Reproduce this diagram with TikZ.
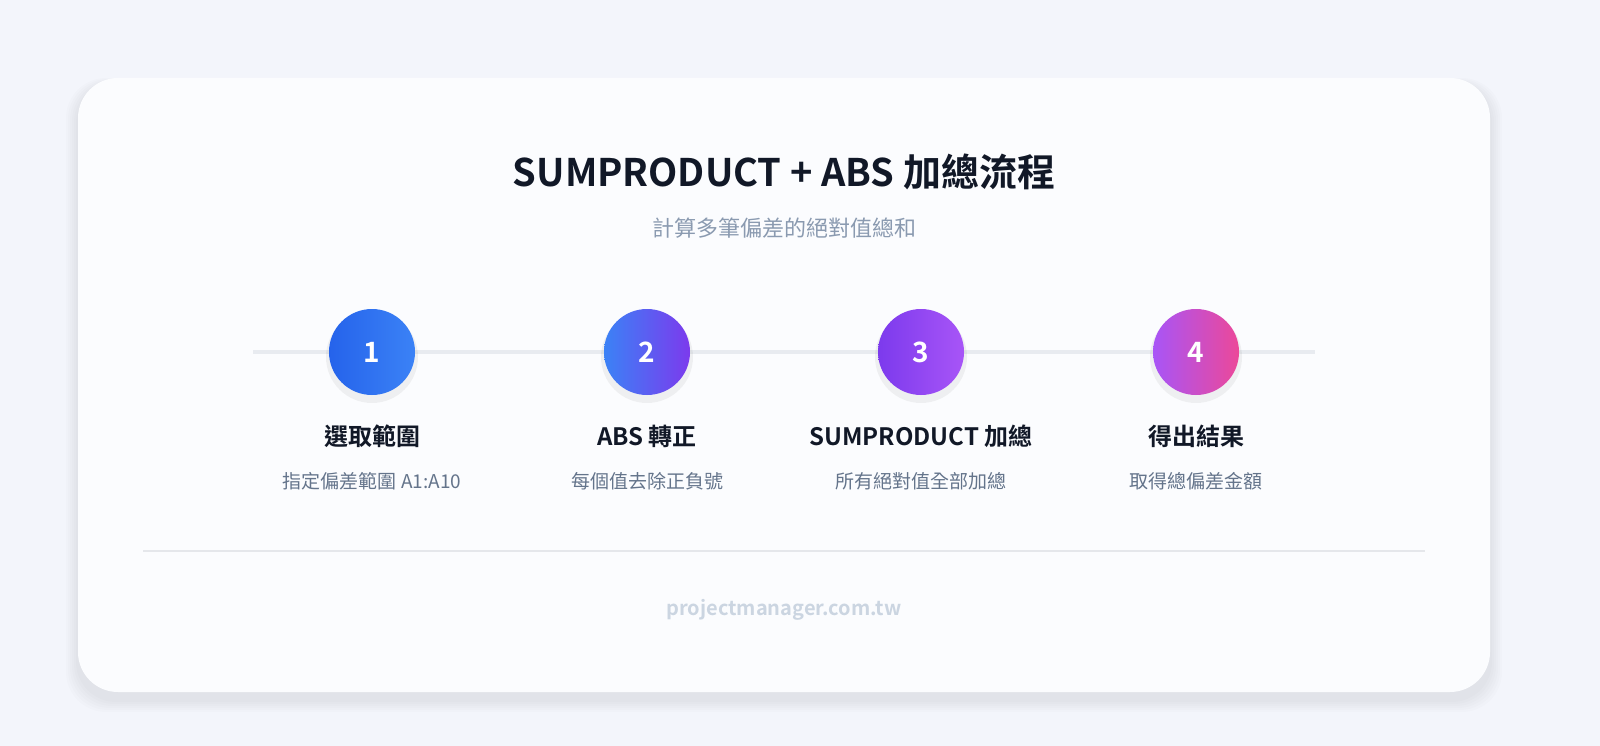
\documentclass[tikz,border=0pt]{standalone}
\usepackage{fontspec}
\setmainfont{Noto Sans CJK TC}[BoldFont={* Bold}]
\definecolor{bgc}{HTML}{F3F5FB}
\definecolor{cardc}{HTML}{FBFCFE}
\definecolor{titc}{HTML}{111827}
\definecolor{subc}{HTML}{8A9AB0}
\definecolor{descc}{HTML}{64748B}
\definecolor{linec}{HTML}{E8EBF0}
\definecolor{sepc}{HTML}{E5E7EB}
\definecolor{footc}{HTML}{CBD5E1}
\definecolor{cA}{HTML}{2563EB}\definecolor{cB}{HTML}{3B82F6}
\definecolor{cC}{HTML}{7C3AED}\definecolor{cD}{HTML}{A855F7}
\definecolor{cE}{HTML}{EC4899}
\tikzset{
 stepcirc/.style={circle,minimum size=86pt,inner sep=0pt,text=white,font=\fontsize{28}{30}\selectfont\bfseries},
 stepshadow/.style={circle,minimum size=92pt,inner sep=0pt,fill=black,opacity=0.05},
 steplabel/.style={font=\fontsize{24}{28}\selectfont\bfseries,text=titc},
 stepdesc/.style={font=\fontsize{19}{22}\selectfont,text=descc}
}
\begin{document}
\begin{tikzpicture}[x=1pt,y=-1pt]
\useasboundingbox (0,0) rectangle (1600,746);
\fill[bgc] (0,0) rectangle (1600,746);
\foreach \i in {1,...,6} {
  \fill[black,opacity=0.012,rounded corners=40pt] (78-2*\i,84-\i) rectangle (1490+2*\i,700+2*\i);
}
\fill[cardc,rounded corners=40pt] (78,78) rectangle (1490,692);
\coordinate (card) at (784,385);
\node[font=\fontsize{38}{42}\selectfont\bfseries,text=titc] (title) at (784,172) {SUMPRODUCT + ABS 加總流程};
\node[font=\fontsize{22}{26}\selectfont,text=subc] (sub) at (784,228) {計算多筆偏差的絕對值總和};
\coordinate (l1) at (253,352); \coordinate (l2) at (1315,352);
\draw[linec,line width=4pt] (l1) -- (l2);
\foreach \x in {372,647,921,1196} { \node[stepshadow] at (\x,357) {}; }
\node[stepcirc,left color=cA,right color=cB] (s1) at (372,352) {1};
\node[stepcirc,left color=cB,right color=cC] (s2) at (647,352) {2};
\node[stepcirc,left color=cC,right color=cD] (s3) at (921,352) {3};
\node[stepcirc,left color=cD,right color=cE] (s4) at (1196,352) {4};
\node[steplabel] (t1) at (372,436) {選取範圍};
\node[steplabel] (t2) at (647,436) {ABS 轉正};
\node[steplabel] (t3) at (921,436) {SUMPRODUCT 加總};
\node[steplabel] (t4) at (1196,436) {得出結果};
\node[stepdesc] (d1) at (372,481) {指定偏差範圍 A1:A10};
\node[stepdesc] (d2) at (647,481) {每個值去除正負號};
\node[stepdesc] (d3) at (921,481) {所有絕對值全部加總};
\node[stepdesc] (d4) at (1196,481) {取得總偏差金額};
\coordinate (p1) at (143,551); \coordinate (p2) at (1425,551);
\draw[sepc,line width=1.5pt] (p1) -- (p2);
\node[font=\fontsize{20}{24}\selectfont\bfseries,text=footc] (foot) at (784,610) {projectmanager.com.tw};
\end{tikzpicture}
\end{document}
